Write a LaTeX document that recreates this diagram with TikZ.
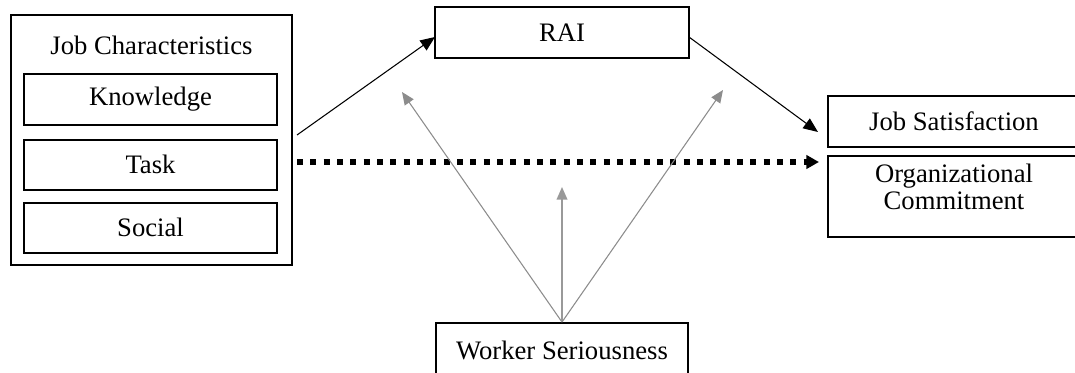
\documentclass[tikz,border=0pt]{standalone}
\usepackage{fontspec}
\setmainfont{Liberation Serif}
\usetikzlibrary{positioning,arrows.meta}
\newcommand{\pxu}{0.75pt}

\begin{document}
\begin{tikzpicture}
  [x=0.75pt,y=-0.75pt,
   every node/.style={font=\fontsize{20}{20}\selectfont},
   box/.style={draw,line width=1.4pt,inner sep=0pt,minimum width=253*\pxu,minimum height=51*\pxu},
   frame/.style={draw,line width=0.8pt,inner sep=0pt},
   link/.style={-{Triangle[length=11pt,width=9pt]},line width=0.8pt},
   moderate/.style={-{Triangle[length=9.5pt,width=8pt]},black!45,line width=0.8pt}]
  \useasboundingbox (0,0) rectangle (1075,372);
  % job characteristics block
  \node[frame,minimum width=281*\pxu,minimum height=250*\pxu](jc) at (151.5,140) {};
  \node(jctitle) at (151.5,45) {Job Characteristics};
  \node[box](know) at (150.5,99.5) {Knowledge};
  \node[box,minimum height=50*\pxu](task)[below=13*\pxu of know] {Task};
  \node[box,minimum height=50*\pxu](social)[below=11*\pxu of task] {Social};
  % mediator, outcomes, moderator
  \node[box,minimum width=254*\pxu](rai) at (562,32.5) {RAI};
  \node[box,minimum width=252*\pxu](js) at (954,121.5) {Job Satisfaction};
  \node[box,minimum width=252*\pxu,minimum height=81*\pxu,
        label={[align=center,yshift=7pt]center:Organizational\\Commitment}](oc)[below=7*\pxu of js] {};
  \node[box,minimum width=252*\pxu,minimum height=54*\pxu](ws) at (562,350) {Worker Seriousness};
  \coordinate (jcout) at (297,135);
  \coordinate (raiin) at (435,37);
  \coordinate (raiout) at (689,37);
  \coordinate (jsin) at (818,132);
  \coordinate (dotstart) at (297,162);
  \coordinate (ocin) at (819,162);
  \coordinate (modleft) at (402,92);
  \coordinate (modmid) at (562,187);
  \coordinate (modright) at (723,90);
  \draw[link] (jcout) -- (raiin);
  \draw[link] (raiout) -- (jsin);
  \draw[line width=4pt,dash pattern=on 4.5pt off 5.5pt,-{Triangle[length=9.5pt,width=10pt]}] (dotstart) -- (ocin);
  \draw[moderate] (ws.north) -- (modleft);
  \draw[moderate,black!40,line width=1.3pt] (ws.north) -- (modmid);
  \draw[moderate] (ws.north) -- (modright);
\end{tikzpicture}
\end{document}
